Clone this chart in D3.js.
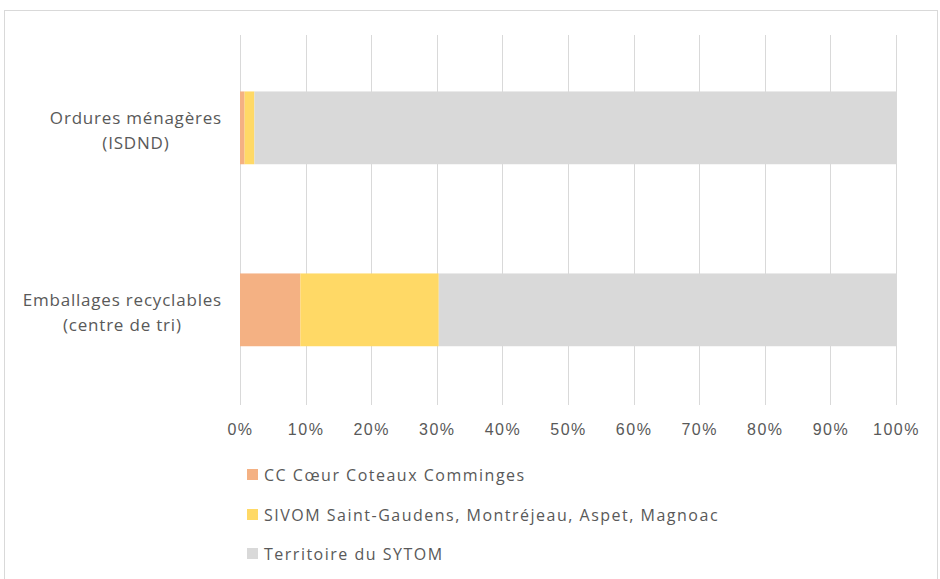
<!DOCTYPE html>
<html>
<head>
<meta charset="utf-8">
<script src="https://cdn.jsdelivr.net/npm/d3@7"></script>
<style>
  body { margin: 0; background: #fff; }
  svg { display: block; font-family: "Open Sans", "Liberation Sans", sans-serif; }
  .tick text { fill: #595959; font-size: 16px; letter-spacing: 1.5px; }
</style>
</head>
<body>
<div id="chart"></div>
<script>
// Data
var categories = [['Ordures ménagères', '(ISDND)'], ['Emballages recyclables', '(centre de tri)']]
var seriesNames = ['CC Cœur Coteaux Comminges', 'SIVOM Saint-Gaudens, Montréjeau, Aspet, Magnoac', 'Territoire du SYTOM']
var ccValues = [0.7, 9.2]
var sivomValues = [1.5, 21.1]
var sytomValues = [97.8, 69.7]
var tickValues = [0, 10, 20, 30, 40, 50, 60, 70, 80, 90, 100]
var colors = ['#F4B183', '#FFD966', '#D9D9D9']

var width = 940
var height = 579
var margin = { top: 35, right: 44, bottom: 174, left: 240 }
var chartWidth = width - margin.left - margin.right
var chartHeight = height - margin.top - margin.bottom

var svg = d3.select('#chart').append('svg')
  .attr('width', width)
  .attr('height', height)

// chart border
svg.append('rect')
  .attr('x', 4.5)
  .attr('y', 10.5)
  .attr('width', 933)
  .attr('height', 600)
  .attr('fill', 'none')
  .attr('stroke', '#d9d9d9')

var g = svg.append('g')
  .attr('transform', 'translate(' + margin.left + ',' + margin.top + ')')

var x = d3.scaleLinear().domain([0, 100]).range([0, chartWidth])
var y = d3.scaleBand()
  .domain(categories.map(function (d) { return d[0] }))
  .range([0, chartHeight])
  .paddingInner(0.6)
  .paddingOuter(0.3165)
  .align(0.49)

// gridlines
g.selectAll('.grid')
  .data(tickValues)
  .enter().append('line')
  .attr('class', 'grid')
  .attr('x1', function (d) { return Math.round(x(d)) + 0.5 })
  .attr('x2', function (d) { return Math.round(x(d)) + 0.5 })
  .attr('y1', 0)
  .attr('y2', chartHeight)
  .attr('stroke', '#d9d9d9')
  .attr('stroke-width', 1)

// stacked bars
var rows = categories.map(function (c, i) {
  return { key: c[0], cc: ccValues[i], sivom: sivomValues[i], sytom: sytomValues[i] }
})
var stack = d3.stack().keys(['cc', 'sivom', 'sytom'])
var layers = stack(rows)

g.selectAll('.layer')
  .data(layers)
  .enter().append('g')
  .attr('class', 'layer')
  .attr('fill', function (d, i) { return colors[i] })
  .selectAll('rect')
  .data(function (d) { return d })
  .enter().append('rect')
  .attr('x', function (d) { return x(d[0]) })
  .attr('width', function (d) { return x(d[1]) - x(d[0]) })
  .attr('y', function (d) { return y(d.data.key) })
  .attr('height', y.bandwidth())

// x axis labels
var xAxis = d3.axisBottom(x)
  .tickValues(tickValues)
  .tickFormat(function (d) { return d + '%' })
  .tickSize(0)
  .tickPadding(19)

g.append('g')
  .attr('transform', 'translate(0,' + chartHeight + ')')
  .call(xAxis)
  .call(function (a) { a.select('.domain').remove() })

// category labels, centered lines in a right-aligned block
var labelRight = 222
categories.forEach(function (lines) {
  var cy = y(lines[0]) + y.bandwidth() / 2
  var group = svg.append('g')
  var texts = lines.map(function (line, j) {
    return group.append('text')
      .attr('y', margin.top + cy + (j - 0.5) * 25 + 9)
      .attr('text-anchor', 'middle')
      .attr('fill', '#595959')
      .style('font-size', '17px')
      .style('letter-spacing', '0.8px')
      .text(line)
  })
  var maxW = d3.max(texts, function (t) { return t.node().getComputedTextLength() })
  texts.forEach(function (t) { t.attr('x', labelRight - maxW / 2) })
})

// legend
var legend = svg.append('g')
  .attr('transform', 'translate(247,474.5)')

var item = legend.selectAll('.item')
  .data(seriesNames)
  .enter().append('g')
  .attr('class', 'item')
  .attr('transform', function (d, i) { return 'translate(0,' + [0, 40, 79][i] + ')' })

item.append('rect')
  .attr('x', 0)
  .attr('y', -5.5)
  .attr('width', 11)
  .attr('height', 11)
  .attr('fill', function (d, i) { return colors[i] })

item.append('text')
  .attr('x', 17)
  .attr('y', 6)
  .attr('fill', '#595959')
  .style('font-size', '16px')
  .style('letter-spacing', '1.5px')
  .text(function (d) { return d })
</script>
</body>
</html>
